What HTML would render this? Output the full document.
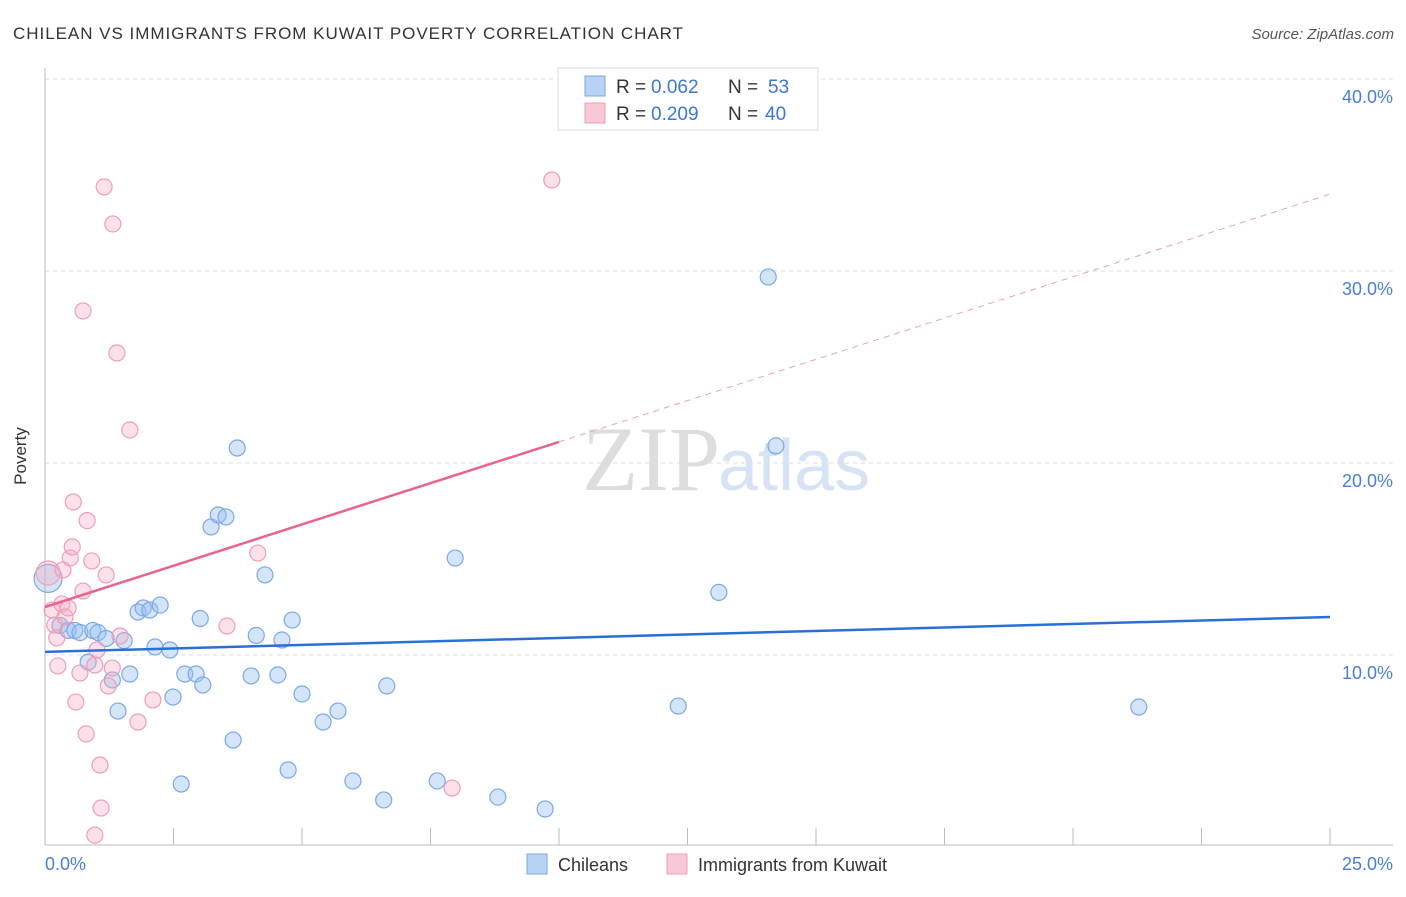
<!DOCTYPE html>
<html><head><meta charset="utf-8"><style>
body{margin:0;background:#fff;font-family:"Liberation Sans",sans-serif}
</style></head><body>
<svg width="1406" height="892" xmlns="http://www.w3.org/2000/svg">
<text x="13" y="39" font-size="17" fill="#333" textLength="670">CHILEAN VS IMMIGRANTS FROM KUWAIT POVERTY CORRELATION CHART</text>
<text x="1394" y="39" font-size="15" fill="#555" text-anchor="end" font-style="italic">Source: ZipAtlas.com</text>
<g id="grid"></g>
<text x="720" y="490" font-size="92" fill="#ddd" text-anchor="end" font-family="Liberation Serif">ZIP</text>
<text x="718" y="490" font-size="72" fill="#d6e3f5">atlas</text>
<g id="marks"></g>
<text x="26" y="456" font-size="17" fill="#333" transform="rotate(-90 26 456)" text-anchor="middle">Poverty</text>
<text x="45" y="870" font-size="18" fill="#4a7fd4">0.0%</text>
<text x="1393" y="870" font-size="18" fill="#4a7fd4" text-anchor="end">25.0%</text>
<g>
<rect x="558" y="68" width="260" height="62" fill="#fff" stroke="#ddd"/>
<rect x="585" y="76" width="20" height="20" fill="#b8d3f5" stroke="#7aa8e6"/>
<rect x="585" y="103" width="20" height="20" fill="#f9c8d6" stroke="#ef9db6"/>
<text x="616" y="93" font-size="19" fill="#333">R =</text>
<text x="651" y="93" font-size="19" fill="#3a78d4">0.062</text>
<text x="728" y="93" font-size="19" fill="#333">N =</text>
<text x="768" y="93" font-size="19" fill="#3a78d4">53</text>
<text x="616" y="120" font-size="19" fill="#333">R =</text>
<text x="651" y="120" font-size="19" fill="#3a78d4">0.209</text>
<text x="728" y="120" font-size="19" fill="#333">N =</text>
<text x="765" y="120" font-size="19" fill="#3a78d4">40</text>
</g>
<g>
<rect x="527" y="854" width="20" height="20" fill="#b8d3f5" stroke="#7aa8e6"/>
<text x="558" y="871" font-size="18" fill="#333">Chileans</text>
<rect x="667" y="854" width="20" height="20" fill="#f9c8d6" stroke="#ef9db6"/>
<text x="698" y="871" font-size="18" fill="#333">Immigrants from Kuwait</text>
</g>
</svg>
<script>
const yTicks=[10,20,30,40];
const xTicks=[0,2.5,5,7.5,10,12.5,15,17.5,20,22.5,25];
const blueX=[0.06,0.29,0.45,0.58,0.68,0.93,1.03,1.19,1.54,0.84,1.31,1.42,1.65,1.81,1.91,2.04,2.24,2.14,2.43,2.49,2.65,2.72,2.94,3.02,3.07,3.23,3.37,3.52,3.66,3.74,4.01,4.11,4.28,4.53,4.61,4.73,4.81,5.0,5.41,5.7,5.99,6.59,6.65,7.63,7.98,8.81,9.73,12.32,13.11,14.07,14.22,21.28];
const blueY=[13.99,11.54,11.28,11.28,11.17,11.28,11.17,10.86,10.75,9.63,8.7,7.08,9.01,12.24,12.45,12.34,12.6,10.42,10.26,7.81,3.28,9.01,9.01,11.9,8.44,16.67,17.29,17.19,5.57,20.78,8.91,11.02,14.17,8.96,10.78,4.01,11.82,7.97,6.51,7.08,3.44,2.45,8.39,3.44,15.05,2.6,1.98,7.34,13.26,29.69,20.89,7.29];
const pinkX=[0.06,0.14,0.19,0.23,0.33,0.39,0.35,0.45,0.49,0.53,0.55,0.6,0.68,0.74,0.82,0.8,0.91,0.97,1.01,1.07,1.09,0.97,1.15,1.19,1.23,1.31,1.32,1.4,1.46,1.65,1.81,2.1,0.74,0.25,3.54,4.14,7.92,9.86];
const pinkY=[14.27,12.34,11.56,10.89,12.66,11.98,14.43,12.45,15.05,15.63,17.97,7.55,9.06,13.33,17.0,5.89,14.9,9.48,10.26,4.27,2.03,0.62,34.38,14.17,8.39,9.32,32.45,25.73,10.99,21.72,6.51,7.66,27.92,9.43,11.51,15.31,3.07,34.74];
const blueTrend=[10.16,11.98];
const pinkTrend=[12.5,34.0];
const NS="http://www.w3.org/2000/svg";
const X=v=>45+v*51.4, Y=v=>847-v*19.2;
function el(t,a,p){const e=document.createElementNS(NS,t);for(const k in a)e.setAttribute(k,a[k]);p.appendChild(e);return e;}
const g=document.getElementById('grid'), m=document.getElementById('marks');
yTicks.forEach(t=>{
 const l=el('line',{x1:45,x2:1393,y1:Y(t),y2:Y(t),stroke:'#ddd','stroke-dasharray':'4,4'},g);
 
 
 const tx=el('text',{x:1393,y:Y(t)+24,'font-size':18,fill:'#4a7fd4','text-anchor':'end'},g);
 tx.textContent=t.toFixed(1)+'%';
 
 
});
const ax=el('line',{x1:45,x2:45,y1:68,y2:845,stroke:'#bbb'},g);


const bx=el('line',{x1:45,x2:1393,y1:845,y2:845,stroke:'#bbb'},g);


xTicks.forEach(t=>{
 const l=el('line',{x1:X(t),x2:X(t),y1:828,y2:845,stroke:'#bbb'},g);
 
 
});
blueX.forEach((x,i)=>{
 const c=el('circle',{cx:X(x),cy:Y(blueY[i]),r:i==0?14:8,fill:'rgba(150,190,240,0.4)',stroke:'#7aa8e6','stroke-width':1.2},m);
 
 
});
pinkX.forEach((x,i)=>{
 const c=el('circle',{cx:X(x),cy:Y(pinkY[i]),r:i==0?12:8,fill:'rgba(245,170,195,0.35)',stroke:'#ef9db6','stroke-width':1.2},m);
 
 
});
const bt=el('line',{x1:X(0),y1:Y(blueTrend[0]),x2:X(25),y2:Y(blueTrend[1]),stroke:'#2a6fd6','stroke-width':2.5},m);


const pAt=v=>pinkTrend[0]+(pinkTrend[1]-pinkTrend[0])*v/25;
const pt=el('line',{x1:X(0),y1:Y(pAt(0)),x2:X(10),y2:Y(pAt(10)),stroke:'#e8648e','stroke-width':2.5},m);


const pd=el('line',{x1:X(10),y1:Y(pAt(10)),x2:X(25),y2:Y(pAt(25)),stroke:'#eaa0b8','stroke-width':1,'stroke-dasharray':'6,5'},m);


</script>
</body></html>
